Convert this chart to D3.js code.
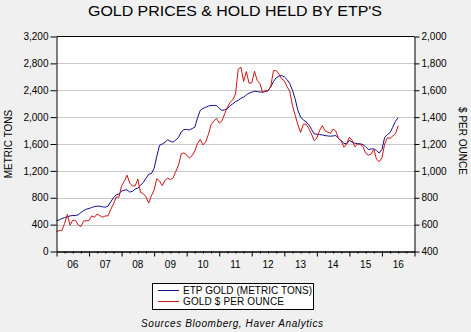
<!DOCTYPE html>
<html><head><meta charset="utf-8">
<script src="https://cdn.jsdelivr.net/npm/d3@7"></script>
<style>html,body{margin:0;padding:0;background:#f0f0f0;} svg{display:block;}</style>
</head><body><svg id="c" width="471" height="332"></svg>
<script>
// ---- data ----
const startYear = 2006; // first observation: Jan 2006, monthly
const yearLabels = ["06","07","08","09","10","11","12","13","14","15","16"];
const leftTicks = [0,400,800,1200,1600,2000,2400,2800,3200];
const rightTicks = [400,600,800,1000,1200,1400,1600,1800,2000];
const seriesNames = ["ETP GOLD (METRIC TONS)", "GOLD $ PER OUNCE"];

const etpTons = [
  460, 470, 490, 505, 515, 530, 536, 536, 545, 580, 610, 630,
  640, 655, 670, 674, 674, 665, 660, 675, 740, 800, 844, 855,
  900, 912, 918, 885, 895, 930, 945, 985, 1030, 1090, 1150, 1160,
  1240, 1420, 1580, 1600, 1625, 1663, 1640, 1627, 1660, 1700, 1780, 1816,
  1816, 1810, 1830, 1850, 1990, 2100, 2130, 2145, 2165, 2173, 2175, 2170,
  2130, 2099, 2110, 2124, 2170, 2198, 2230, 2250, 2280, 2297, 2330, 2357,
  2370, 2386, 2380, 2375, 2372, 2380, 2397, 2450, 2530, 2586, 2610, 2620,
  2600, 2560, 2500, 2400, 2270, 2100, 2000, 1960, 1930, 1890, 1820, 1751,
  1745, 1740, 1735, 1726, 1720, 1716, 1720, 1726, 1680, 1650, 1610, 1603,
  1652, 1630, 1612, 1605, 1603, 1590, 1560, 1518, 1525, 1528, 1503, 1465,
  1520, 1700, 1740, 1770, 1850, 1940, 1990
];

const goldPrice = [
  549, 555, 557, 610, 676, 596, 633, 632, 598, 586, 627, 629,
  631, 665, 655, 679, 667, 655, 665, 665, 712, 754, 806, 803,
  889, 922, 968, 909, 888, 889, 939, 839, 830, 806, 760, 816,
  858, 943, 924, 890, 928, 946, 934, 949, 996, 1043, 1127, 1134,
  1118, 1095, 1113, 1148, 1205, 1233, 1193, 1215, 1271, 1343, 1370, 1391,
  1356, 1372, 1424, 1473, 1510, 1529, 1572, 1756, 1772, 1666, 1739, 1652,
  1656, 1742, 1673, 1650, 1585, 1596, 1594, 1630, 1745, 1747, 1722, 1685,
  1671, 1627, 1593, 1487, 1414, 1343, 1286, 1347, 1348, 1316, 1275, 1225,
  1244, 1300, 1336, 1299, 1288, 1279, 1311, 1296, 1239, 1222, 1176, 1200,
  1251, 1227, 1179, 1198, 1199, 1181, 1131, 1117, 1125, 1159, 1086, 1068,
  1097, 1200, 1246, 1242, 1260, 1276, 1337
];

// ---- chart ----
const FONT = "'Liberation Sans', Arial, sans-serif";
const BLUE = "#10108c", RED = "#cc1414";
const svg = d3.select("#c");
const m = {l:56.5, r:414.5, t:36.5, b:251.5};
const x = d3.scaleLinear().domain([2006, 2017]).range([m.l, m.r]);
const yL = d3.scaleLinear().domain([0, 3200]).range([m.b, m.t]);
const yR = d3.scaleLinear().domain([400, 2000]).range([m.b, m.t]);

svg.append("rect").attr("x", m.l).attr("y", m.t)
  .attr("width", m.r - m.l).attr("height", m.b - m.t).attr("fill", "#fff");

// gridlines
svg.append("g").selectAll("line")
  .data(leftTicks.filter(v => v > 0 && v < 3200)).join("line")
  .attr("x1", m.l).attr("x2", m.r)
  .attr("y1", d => Math.round(yL(d)) + 0.5).attr("y2", d => Math.round(yL(d)) + 0.5)
  .attr("stroke", "#c8c8c8").attr("stroke-width", 1);

// lines
const tOf = i => startYear + i / 12;
svg.append("path").datum(etpTons)
  .attr("d", d3.line().x((d, i) => x(tOf(i))).y(d => yL(d)))
  .attr("fill", "none").attr("stroke", BLUE).attr("stroke-width", 1);
svg.append("path").datum(goldPrice)
  .attr("d", d3.line().x((d, i) => x(tOf(i))).y(d => yR(d)))
  .attr("fill", "none").attr("stroke", RED).attr("stroke-width", 1);

function styleAxis(g) {
  g.selectAll("path").attr("stroke", "#000");
  g.selectAll("line").attr("stroke", "#000");
  g.selectAll("text").attr("font-family", FONT).attr("font-size", 10).attr("fill", "#000");
}

// left axis
svg.append("g").attr("transform", `translate(${m.l},0)`)
  .call(d3.axisLeft(yL).tickValues(leftTicks).tickFormat(d3.format(",")).tickSize(6).tickSizeOuter(0).tickPadding(2))
  .call(styleAxis);
// right axis
svg.append("g").attr("transform", `translate(${m.r},0)`)
  .call(d3.axisRight(yR).tickValues(rightTicks).tickFormat(d3.format(",")).tickSize(5).tickSizeOuter(0).tickPadding(2))
  .call(styleAxis);
// bottom axis: major year ticks, minor quarterly ticks
const quarters = d3.range(2006, 2017.001, 0.25);
svg.append("g").attr("transform", `translate(0,${m.b})`)
  .call(d3.axisBottom(x).tickValues(quarters.filter(q => q % 1 !== 0)).tickFormat("").tickSize(2).tickSizeOuter(0))
  .call(styleAxis);
svg.append("g").attr("transform", `translate(0,${m.b})`)
  .call(d3.axisBottom(x).tickValues(d3.range(2006, 2018)).tickFormat("").tickSize(5).tickSizeOuter(0))
  .call(styleAxis);
svg.append("g").selectAll("text").data(yearLabels).join("text")
  .attr("x", (d, i) => x(startYear + i + 0.5)).attr("y", 264)
  .attr("text-anchor", "middle").attr("dominant-baseline", "central")
  .attr("font-family", FONT).attr("font-size", 10).text(d => d);
// top border
svg.append("line").attr("x1", m.l).attr("x2", m.r).attr("y1", m.t).attr("y2", m.t).attr("stroke", "#000");

// titles
svg.append("text").attr("x", 235).attr("y", 16).attr("text-anchor", "middle")
  .attr("font-family", FONT).attr("font-size", 14.5)
  .attr("textLength", 294).attr("lengthAdjust", "spacingAndGlyphs")
  .text("GOLD PRICES & HOLD HELD BY ETP'S");
svg.append("text").attr("transform", `translate(8,${(m.t + m.b) / 2}) rotate(-90)`)
  .attr("text-anchor", "middle").attr("dominant-baseline", "central")
  .attr("font-family", FONT).attr("font-size", 10).text("METRIC TONS");
svg.append("text").attr("transform", `translate(462,${(m.t + m.b) / 2 - 3}) rotate(90)`)
  .attr("text-anchor", "middle").attr("dominant-baseline", "central")
  .attr("font-family", FONT).attr("font-size", 10).text("$ PER OUNCE");

// legend
const lg = svg.append("g");
lg.append("rect").attr("x", 152.5).attr("y", 283.5).attr("width", 161).attr("height", 26)
  .attr("fill", "#fff").attr("stroke", "#000");
const legendColors = [BLUE, RED];
const legendY = [290.5, 301.5];
const legendWidths = [129, 101];
seriesNames.forEach((name, i) => {
  lg.append("line").attr("x1", 158).attr("x2", 179).attr("y1", legendY[i]).attr("y2", legendY[i])
    .attr("stroke", legendColors[i]);
  lg.append("text").attr("x", 183).attr("y", legendY[i]).attr("dominant-baseline", "central")
    .attr("font-family", FONT).attr("font-size", 10)
    .attr("textLength", legendWidths[i]).attr("lengthAdjust", "spacing").text(name);
});
svg.append("text").attr("x", 141).attr("y", 323.5).attr("dominant-baseline", "central")
  .attr("font-family", FONT).attr("font-size", 10).attr("font-style", "italic")
  .attr("textLength", 182).attr("lengthAdjust", "spacing")
  .text("Sources  Bloomberg, Haver Analytics");
</script></body></html>
